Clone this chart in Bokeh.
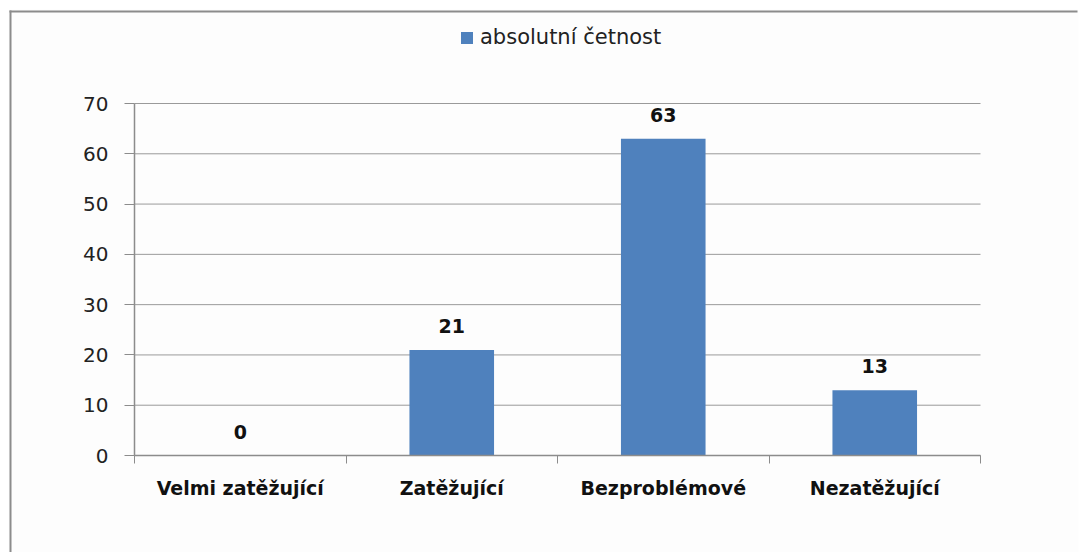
from bokeh.plotting import figure
from bokeh.models import (ColumnDataSource, FixedTicker, LabelSet, Legend, LegendItem,
                          Range1d, BoxAnnotation)
from bokeh.core.properties import value
from bokeh.embed import file_html
from bokeh.resources import INLINE

categories = ["Velmi zatěžující", "Zatěžující", "Bezproblémové", "Nezatěžující"]
values = [0, 21, 63, 13]
series_name = "absolutní četnost"
y_ticks = [0, 10, 20, 30, 40, 50, 60, 70]
y_max = 70

n = len(categories)
xs = [i + 0.5 for i in range(n)]
src = ColumnDataSource(dict(x=xs, top=values, label=[str(v) for v in values]))

# layout (canvas pixels)
W, H = 1082, 552
FL, FT, FR = 8, 9, 4       # outer chart area (frame) left / top / right margin
AX_L, AX_R = 134, 980      # plot-area left / right
Y70, Y0 = 103, 455         # pixel rows of top gridline and of value 0
pxx = (AX_R - AX_L) / n
pxy = (Y0 - Y70) / y_max
x_start = -(AX_L - FL) / pxx
x_end = n + (W - FR - AX_R) / pxx
y_end = y_max + (Y70 - FT) / pxy
y_start = -(H - Y0) / pxy

p = figure(width=W, height=H, output_backend="svg", toolbar_location=None,
           x_range=Range1d(x_start, x_end), y_range=Range1d(y_start, y_end),
           min_border_left=FL, min_border_top=FT, min_border_right=FR, min_border_bottom=0)
p.background_fill_color = "#fdfdfd"
p.border_fill_color = "#ffffff"
p.outline_line_color = None
p.xgrid.visible = False
p.ygrid.visible = False

# horizontal gridlines across the plot area
p.segment(x0=[0] * len(y_ticks), x1=[n] * len(y_ticks), y0=y_ticks, y1=y_ticks,
          line_color="#9a9a9a", line_width=1)

bars = p.vbar(x="x", top="top", width=0.4, source=src, fill_color="#4F81BD", line_color=None)

labels = LabelSet(x="x", y="top", text="label", source=src, text_align="center",
                  text_baseline="alphabetic", y_offset=17, text_font=value("DejaVu Sans"),
                  text_font_style="bold", text_font_size="19px", text_color="#111111")
p.add_layout(labels)

# outer chart frame: only its left and top edges are visible
frame_w = W - FL - FR
frame_h = H - FT
edge = dict(left_units="screen", right_units="screen", top_units="screen",
            bottom_units="screen", fill_color="#8c8c8c", fill_alpha=1,
            line_color=None, line_alpha=0, level="overlay")
p.add_layout(BoxAnnotation(left=1, right=3, top=frame_h - 1, bottom=0, **edge))
p.add_layout(BoxAnnotation(left=1, right=frame_w - 1, top=frame_h - 1, bottom=frame_h - 3, **edge))

# x axis
p.xaxis.fixed_location = 0
p.xaxis.bounds = (0, n)
p.xaxis.ticker = FixedTicker(ticks=xs, minor_ticks=list(range(n + 1)))
p.xaxis.major_label_overrides = {x: c for x, c in zip(xs, categories)}
p.xaxis.major_tick_out = 0
p.xaxis.major_tick_in = 0
p.xaxis.minor_tick_out = 8
p.xaxis.minor_tick_in = 0
p.xaxis.minor_tick_line_color = "#8c8c8c"
p.xaxis.axis_line_color = "#8c8c8c"
p.xaxis.axis_line_width = 1.5
p.xaxis.major_label_text_font = "DejaVu Sans"
p.xaxis.major_label_text_font_style = "bold"
p.xaxis.major_label_text_font_size = "19px"
p.xaxis.major_label_text_color = "#111111"
p.xaxis.major_label_standoff = 13

# y axis
p.yaxis.fixed_location = 0
p.yaxis.ticker = FixedTicker(ticks=y_ticks, minor_ticks=[])
p.yaxis.bounds = (0, y_max)
p.yaxis.major_tick_out = 10
p.yaxis.major_tick_in = 0
p.yaxis.major_tick_line_color = "#8c8c8c"
p.yaxis.axis_line_color = "#8c8c8c"
p.yaxis.axis_line_width = 1.5
p.yaxis.major_label_text_font = "DejaVu Sans"
p.yaxis.major_label_text_font_size = "20px"
p.yaxis.major_label_text_color = "#222222"
p.yaxis.major_label_standoff = 16

legend = Legend(items=[LegendItem(label=series_name, renderers=[bars])],
                location=(451, H - FT - 40), orientation="horizontal",
                glyph_width=15, glyph_height=15, label_standoff=6,
                label_text_font="DejaVu Sans", label_text_font_size="21px",
                label_text_color="#222222", padding=0, margin=0,
                border_line_color=None, background_fill_alpha=0)
p.add_layout(legend, "center")

open("out.html", "w").write(file_html(p, INLINE))
